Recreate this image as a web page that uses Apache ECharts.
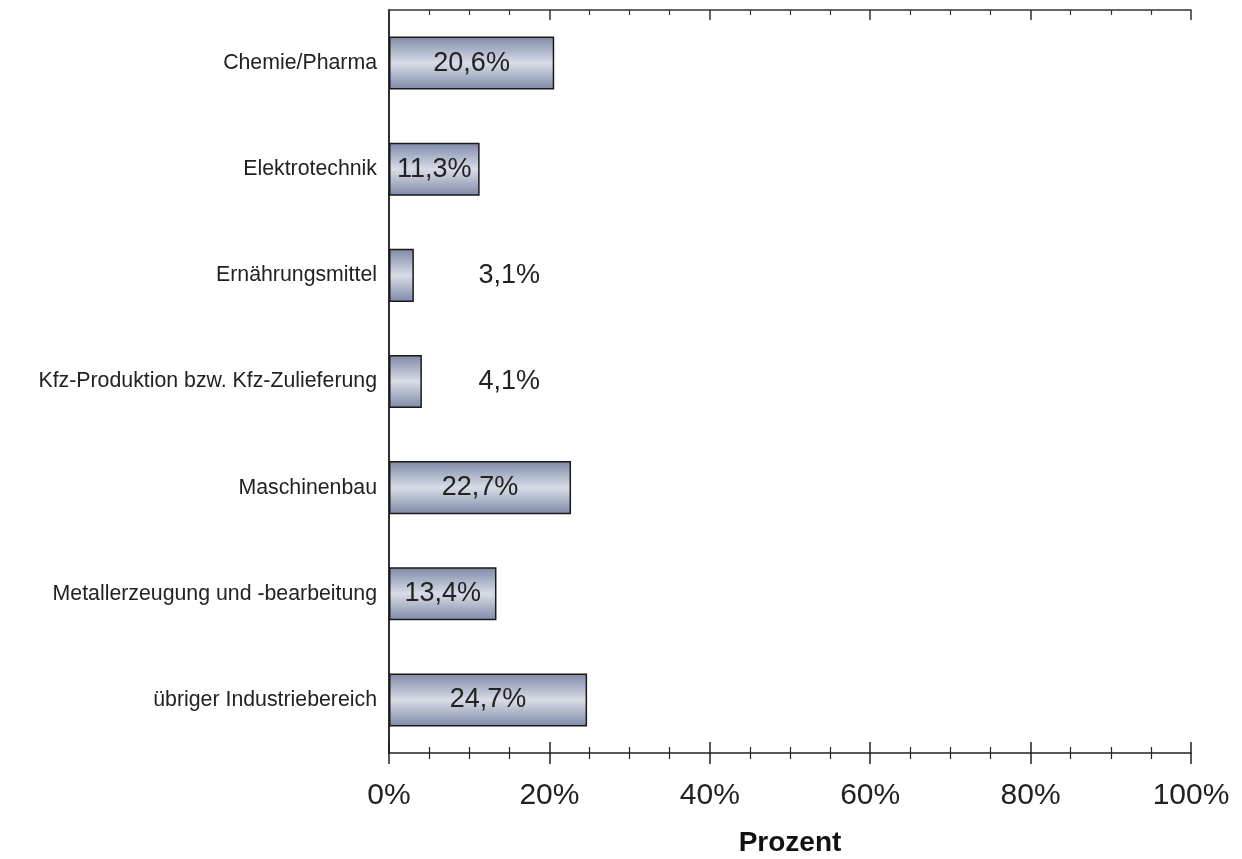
<!DOCTYPE html>
<html>
<head>
<meta charset="utf-8">
<script src="https://cdn.jsdelivr.net/npm/echarts@6/dist/echarts.min.js"></script>
<style>html,body{margin:0;padding:0;background:#fff;}#c{width:1242px;height:859px;}</style>
</head>
<body>
<div id="c"></div>
<script>
const categories = ["Chemie/Pharma", "Elektrotechnik", "Ernährungsmittel", "Kfz-Produktion bzw. Kfz-Zulieferung", "Maschinenbau", "Metallerzeugung und -bearbeitung", "übriger Industriebereich"];
const values = [20.6, 11.3, 3.1, 4.1, 22.7, 13.4, 24.7];
const outsideLabelCats = ["Ernährungsmittel", "Kfz-Produktion bzw. Kfz-Zulieferung"];
const OUTSIDE_LABEL_AT = 15;

const fmt = v => v.toFixed(1).replace('.', ',') + '%';
const chart = echarts.init(document.getElementById('c'), null, {renderer: 'canvas'});
const font = "'Liberation Sans', Arial, sans-serif";
const axisCol = '#222';
const grad = new echarts.graphic.LinearGradient(0, 0, 0, 1, [
  {offset: 0, color: '#7e89a7'},
  {offset: 0.5, color: '#d8dce6'},
  {offset: 1, color: '#7e89a7'}
]);
const barData = categories.map((c, i) => ({
  value: values[i],
  label: {show: !outsideLabelCats.includes(c)}
}));
const scatterData = categories.map((c, i) => outsideLabelCats.includes(c) ? [OUTSIDE_LABEL_AT, c, values[i]] : null).filter(Boolean);

chart.setOption({
  animation: false,
  backgroundColor: '#fff',
  grid: {left: 389, right: 51, top: 10, bottom: 106, containLabel: false, outerBoundsMode: 'none'},
  xAxis: [
    {type: 'value', min: 0, max: 100, interval: 20, position: 'bottom',
     axisLine: {show: true, lineStyle: {color: axisCol, width: 1.5}},
     axisTick: {show: true, inside: false, length: 11, lineStyle: {color: axisCol, width: 1.5}},
     minorTick: {show: true, splitNumber: 4, length: 6, lineStyle: {color: axisCol, width: 1.2}},
     splitLine: {show: false},
     axisLabel: {show: true, formatter: v => v + '%', fontSize: 30, color: '#222', fontFamily: font, margin: 28},
     name: 'Prozent', nameLocation: 'middle', nameGap: 76,
     nameTextStyle: {fontSize: 28, fontWeight: 'bold', color: '#111', fontFamily: font}},
    {type: 'value', min: 0, max: 100, interval: 20, position: 'bottom', offset: 0,
     axisLine: {show: false},
     axisTick: {show: true, inside: true, length: 11, lineStyle: {color: axisCol, width: 1.5}},
     minorTick: {show: true, splitNumber: 4, length: 6, lineStyle: {color: axisCol, width: 1.2}},
     splitLine: {show: false}, axisLabel: {show: false}},
    {type: 'value', min: 0, max: 100, interval: 20, position: 'top',
     axisLine: {show: true, lineStyle: {color: '#333', width: 1.5}},
     axisTick: {show: true, inside: true, length: 10, lineStyle: {color: '#333', width: 1.5}},
     minorTick: {show: true, splitNumber: 4, length: 5, lineStyle: {color: '#333', width: 1.2}},
     splitLine: {show: false}, axisLabel: {show: false}}
  ],
  yAxis: [
    {type: 'category', data: categories, inverse: true, position: 'left',
     axisLine: {show: true, lineStyle: {color: axisCol, width: 1.5}},
     axisTick: {show: false},
     axisLabel: {fontSize: 21.3, color: '#222', fontFamily: font, margin: 12}},
    {type: 'category', data: categories, inverse: true, position: 'right',
     axisLine: {show: true, lineStyle: {color: axisCol, width: 1.5}},
     axisTick: {show: false}, axisLabel: {show: false}}
  ],
  series: [
    {type: 'bar', data: barData, barWidth: '50%', xAxisIndex: 0, yAxisIndex: 0,
     itemStyle: {color: grad, borderColor: '#1a1a1a', borderWidth: 1.5},
     label: {position: 'inside', formatter: p => fmt(p.value), fontSize: 27, color: '#222', fontFamily: font}},
    {type: 'scatter', data: scatterData, symbolSize: 0, xAxisIndex: 0, yAxisIndex: 0,
     itemStyle: {opacity: 1},
     label: {show: true, position: 'inside', opacity: 1, formatter: p => fmt(p.value[2]), fontSize: 27, color: '#222', fontFamily: font}}
  ]
});
</script>
</body>
</html>
